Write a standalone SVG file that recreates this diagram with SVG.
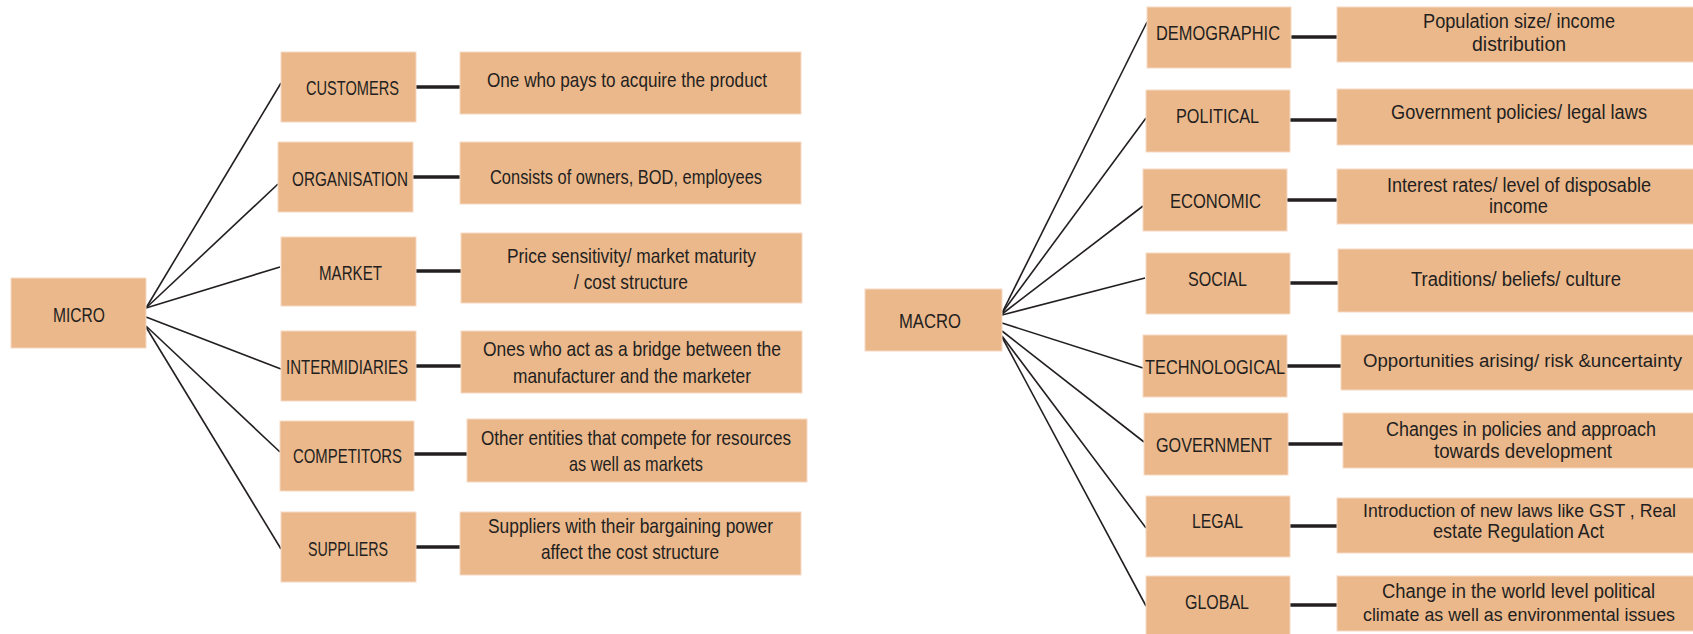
<svg xmlns="http://www.w3.org/2000/svg" width="1693" height="634" viewBox="0 0 1693 634">
  <style>
    .box { fill: #EBB88C; stroke: #F5D9C3; stroke-width: 1; }
    .lbl { font-family: "Liberation Sans", Arial, sans-serif; font-size: 21px; fill: #231F20; }
    .rt { font-size: 20px; }
    .long { font-size: 18px; }
    .ray { stroke: #231F20; stroke-width: 1.6; fill: none; }
    .tie { stroke: #231F20; stroke-width: 3.5; fill: none; }
  </style>
  <rect width="1693" height="634" fill="#FFFFFF"/>

  <!-- connectors -->
  <g id="connectors">
    <!-- micro fan -->
    <line class="ray" x1="146" y1="308" x2="281" y2="83"/>
    <line class="ray" x1="146" y1="308" x2="278" y2="184"/>
    <line class="ray" x1="146" y1="308" x2="280" y2="267"/>
    <line class="ray" x1="146" y1="317" x2="281" y2="369"/>
    <line class="ray" x1="146" y1="326" x2="280" y2="452"/>
    <line class="ray" x1="146" y1="327" x2="281" y2="549"/>
    <!-- micro ties -->
    <line class="tie" x1="416" y1="87" x2="460" y2="87"/>
    <line class="tie" x1="413" y1="177" x2="460" y2="177"/>
    <line class="tie" x1="416" y1="271" x2="461" y2="271"/>
    <line class="tie" x1="416" y1="366" x2="461" y2="366"/>
    <line class="tie" x1="414" y1="454" x2="467" y2="454"/>
    <line class="tie" x1="416" y1="547" x2="460" y2="547"/>
    <!-- macro fan -->
    <line class="ray" x1="1002" y1="313" x2="1147" y2="22"/>
    <line class="ray" x1="1002" y1="313" x2="1146" y2="118"/>
    <line class="ray" x1="1002" y1="314" x2="1143" y2="206"/>
    <line class="ray" x1="1002" y1="315" x2="1145" y2="278"/>
    <line class="ray" x1="1002" y1="323" x2="1143" y2="368"/>
    <line class="ray" x1="1002" y1="331" x2="1144" y2="442"/>
    <line class="ray" x1="1002" y1="336" x2="1146" y2="528"/>
    <line class="ray" x1="1002" y1="337" x2="1146" y2="606"/>
    <!-- macro ties -->
    <line class="tie" x1="1291" y1="37" x2="1337" y2="37"/>
    <line class="tie" x1="1286" y1="120" x2="1337" y2="120"/>
    <line class="tie" x1="1287" y1="200" x2="1337" y2="200"/>
    <line class="tie" x1="1290" y1="283" x2="1338" y2="283"/>
    <line class="tie" x1="1287" y1="366" x2="1341" y2="366"/>
    <line class="tie" x1="1288" y1="444" x2="1343" y2="444"/>
    <line class="tie" x1="1290" y1="526" x2="1337" y2="526"/>
    <line class="tie" x1="1290" y1="605" x2="1337" y2="605"/>
  </g>

  <!-- micro side -->
  <g id="micro"><rect class="box" x="11" y="278" width="135" height="70"/>
    <text class="lbl" x="53" y="322" textLength="52" lengthAdjust="spacingAndGlyphs">MICRO</text></g>

  <g id="customers"><rect class="box" x="281" y="52" width="135" height="70"/>
    <text class="lbl" x="306" y="95" textLength="93" lengthAdjust="spacingAndGlyphs">CUSTOMERS</text></g>
  <g id="organisation"><rect class="box" x="278" y="142" width="135" height="70"/>
    <text class="lbl" x="292" y="186" textLength="116" lengthAdjust="spacingAndGlyphs">ORGANISATION</text></g>
  <g id="market"><rect class="box" x="281" y="237" width="135" height="69"/>
    <text class="lbl" x="319" y="280" textLength="63" lengthAdjust="spacingAndGlyphs">MARKET</text></g>
  <g id="intermidiaries"><rect class="box" x="281" y="331" width="135" height="70"/>
    <text class="lbl" x="286" y="374" textLength="122" lengthAdjust="spacingAndGlyphs">INTERMIDIARIES</text></g>
  <g id="competitors"><rect class="box" x="280" y="421" width="134" height="70"/>
    <text class="lbl" x="293" y="463" textLength="109" lengthAdjust="spacingAndGlyphs">COMPETITORS</text></g>
  <g id="suppliers"><rect class="box" x="281" y="512" width="135" height="70"/>
    <text class="lbl" x="308" y="556" textLength="80" lengthAdjust="spacingAndGlyphs">SUPPLIERS</text></g>

  <g id="customers-desc"><rect class="box" x="460" y="52" width="341" height="62"/>
    <text class="lbl" x="487" y="87" textLength="280" lengthAdjust="spacingAndGlyphs">One who pays to acquire the product</text></g>
  <g id="organisation-desc"><rect class="box" x="460" y="142" width="341" height="62"/>
    <text class="lbl" x="490" y="184" textLength="272" lengthAdjust="spacingAndGlyphs">Consists of owners, BOD, employees</text></g>
  <g id="market-desc"><rect class="box" x="461" y="233" width="341" height="70"/>
    <text class="lbl" x="507" y="263" textLength="249" lengthAdjust="spacingAndGlyphs">Price sensitivity/ market maturity</text>
    <text class="lbl" x="574" y="289" textLength="114" lengthAdjust="spacingAndGlyphs">/ cost structure</text></g>
  <g id="intermidiaries-desc"><rect class="box" x="461" y="331" width="341" height="62"/>
    <text class="lbl" x="483" y="356" textLength="298" lengthAdjust="spacingAndGlyphs">Ones who act as a bridge between the</text>
    <text class="lbl" x="513" y="383" textLength="238" lengthAdjust="spacingAndGlyphs">manufacturer and the marketer</text></g>
  <g id="competitors-desc"><rect class="box" x="467" y="419" width="340" height="63"/>
    <text class="lbl" x="481" y="445" textLength="310" lengthAdjust="spacingAndGlyphs">Other entities that compete for resources</text>
    <text class="lbl" x="569" y="471" textLength="134" lengthAdjust="spacingAndGlyphs">as well as markets</text></g>
  <g id="suppliers-desc"><rect class="box" x="460" y="512" width="341" height="63"/>
    <text class="lbl" x="488" y="533" textLength="285" lengthAdjust="spacingAndGlyphs">Suppliers with their bargaining power</text>
    <text class="lbl" x="541" y="559" textLength="178" lengthAdjust="spacingAndGlyphs">affect the cost structure</text></g>

  <!-- macro side -->
  <g id="macro"><rect class="box" x="865" y="289" width="137" height="62"/>
    <text class="lbl rt" x="899" y="328" textLength="62" lengthAdjust="spacingAndGlyphs">MACRO</text></g>

  <g id="demographic"><rect class="box" x="1147" y="7" width="144" height="61"/>
    <text class="lbl rt" x="1156" y="40" textLength="124" lengthAdjust="spacingAndGlyphs">DEMOGRAPHIC</text></g>
  <g id="political"><rect class="box" x="1146" y="90" width="144" height="62"/>
    <text class="lbl rt" x="1176" y="123" textLength="83" lengthAdjust="spacingAndGlyphs">POLITICAL</text></g>
  <g id="economic"><rect class="box" x="1143" y="169" width="144" height="62"/>
    <text class="lbl rt" x="1170" y="208" textLength="91" lengthAdjust="spacingAndGlyphs">ECONOMIC</text></g>
  <g id="social"><rect class="box" x="1146" y="253" width="144" height="61"/>
    <text class="lbl rt" x="1188" y="286" textLength="59" lengthAdjust="spacingAndGlyphs">SOCIAL</text></g>
  <g id="technological"><rect class="box" x="1143" y="335" width="144" height="62"/>
    <text class="lbl rt" x="1145" y="374" textLength="140" lengthAdjust="spacingAndGlyphs">TECHNOLOGICAL</text></g>
  <g id="government"><rect class="box" x="1144" y="413" width="144" height="62"/>
    <text class="lbl rt" x="1156" y="452" textLength="116" lengthAdjust="spacingAndGlyphs">GOVERNMENT</text></g>
  <g id="legal"><rect class="box" x="1146" y="496" width="144" height="61"/>
    <text class="lbl rt" x="1192" y="528" textLength="51" lengthAdjust="spacingAndGlyphs">LEGAL</text></g>
  <g id="global"><rect class="box" x="1146" y="576" width="144" height="62"/>
    <text class="lbl rt" x="1185" y="609" textLength="64" lengthAdjust="spacingAndGlyphs">GLOBAL</text></g>

  <g id="demographic-desc"><rect class="box" x="1337" y="7" width="360" height="55"/>
    <text class="lbl rt" x="1423" y="28" textLength="192" lengthAdjust="spacingAndGlyphs">Population size/ income</text>
    <text class="lbl rt" x="1472" y="51" textLength="94" lengthAdjust="spacingAndGlyphs">distribution</text></g>
  <g id="political-desc"><rect class="box" x="1337" y="89" width="360" height="56"/>
    <text class="lbl rt" x="1391" y="119" textLength="256" lengthAdjust="spacingAndGlyphs">Government policies/ legal laws</text></g>
  <g id="economic-desc"><rect class="box" x="1337" y="169" width="360" height="55"/>
    <text class="lbl rt" x="1387" y="192" textLength="264" lengthAdjust="spacingAndGlyphs">Interest rates/ level of disposable</text>
    <text class="lbl rt" x="1489" y="213" textLength="59" lengthAdjust="spacingAndGlyphs">income</text></g>
  <g id="social-desc"><rect class="box" x="1338" y="249" width="360" height="63"/>
    <text class="lbl rt" x="1411" y="286" textLength="210" lengthAdjust="spacingAndGlyphs">Traditions/ beliefs/ culture</text></g>
  <g id="technological-desc"><rect class="box" x="1341" y="335" width="360" height="55"/>
    <text class="lbl long" x="1363" y="367" textLength="319" lengthAdjust="spacingAndGlyphs">Opportunities arising/ risk &amp;uncertainty</text></g>
  <g id="government-desc"><rect class="box" x="1343" y="413" width="360" height="55"/>
    <text class="lbl rt" x="1386" y="436" textLength="270" lengthAdjust="spacingAndGlyphs">Changes in policies and approach</text>
    <text class="lbl rt" x="1434" y="458" textLength="178" lengthAdjust="spacingAndGlyphs">towards development</text></g>
  <g id="legal-desc"><rect class="box" x="1337" y="498" width="360" height="55"/>
    <text class="lbl long" x="1363" y="517" textLength="313" lengthAdjust="spacingAndGlyphs">Introduction of new laws like GST , Real</text>
    <text class="lbl rt" x="1433" y="538" textLength="171" lengthAdjust="spacingAndGlyphs">estate Regulation Act</text></g>
  <g id="global-desc"><rect class="box" x="1337" y="576" width="360" height="55"/>
    <text class="lbl rt" x="1382" y="598" textLength="273" lengthAdjust="spacingAndGlyphs">Change in the world level political</text>
    <text class="lbl long" x="1363" y="621" textLength="312" lengthAdjust="spacingAndGlyphs">climate as well as environmental issues</text></g>
</svg>
